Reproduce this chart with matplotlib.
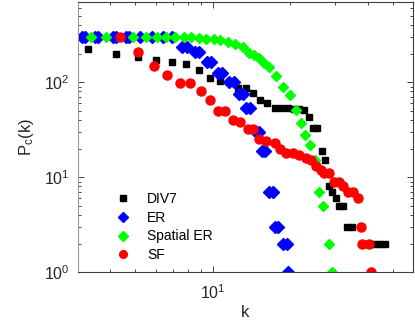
import matplotlib
matplotlib.use('Agg')
import matplotlib.pyplot as plt
from matplotlib.ticker import FixedLocator, FixedFormatter, NullFormatter

plt.rcParams['font.family'] = ['Liberation Sans', 'DejaVu Sans']

# DIV7
div7_k = [3.29, 4.21, 5.13, 6.05, 6.98, 7.91, 8.83, 9.73, 10.7, 12.6, 13.5, 14.4, 15.3,
          16.3, 17.4, 18.5, 19.6, 20.8, 21.7, 22.7, 23.6, 24.6, 25.5, 26.5, 27.4, 28.2,
          29.2, 30.2, 31.0, 32.2, 33.4, 34.9, 39.2, 41.0, 42.8, 44.8, 46.6]
div7_p = [226, 200, 185, 173, 162, 155, 136, 112, 104, 86, 86, 77, 65,
          61, 54, 54, 53, 52, 52, 51, 43, 33, 33, 19, 15, 8,
          7, 6, 5, 5, 3, 3, 2, 2, 2, 2, 2]

# ER
er_k = [3.11, 3.19, 3.49, 3.58, 4.09, 4.21, 4.60, 4.72, 5.21, 5.80, 6.40, 6.94,
        7.59, 7.93, 8.51, 8.83, 9.48, 9.82, 10.5, 10.9, 11.6, 12.1, 12.7, 13.1,
        13.5, 14.0, 14.7, 15.1, 15.5, 16.0, 16.5, 17.1, 17.5, 18.0, 18.7, 19.4, 19.7]
er_p = [300, 300, 300, 300, 300, 300, 300, 300, 300, 300, 300, 300,
        234, 234, 210, 210, 164, 164, 126, 126, 101, 101, 75, 75,
        53, 53, 30, 30, 19, 19, 7, 7, 3, 3, 2, 2, 1]

# Spatial ER
ser_k = [3.37, 3.85, 4.90, 5.50, 6.07, 6.58, 7.13, 7.73, 8.22, 8.83, 9.39, 10.1, 10.7,
         11.5, 12.2, 13.1, 13.9, 14.5, 15.2, 15.9, 16.6, 17.7, 18.8, 19.9, 21.0, 22.1,
         22.9, 23.8, 24.9, 25.8, 26.9, 28.2, 29.0]
ser_p = [300, 300, 300, 300, 300, 300, 300, 300, 298, 292, 288, 282, 275,
         262, 250, 232, 205, 193, 178, 158, 144, 117, 88, 73, 51, 37,
         28, 22, 15, 7, 5, 2, 1]

# SF
sf_k = [4.36, 5.13, 5.90, 6.65, 7.45, 8.2, 8.98, 9.73, 10.5, 11.2, 12.0, 12.8, 13.7,
        14.3, 15.1, 16.1, 17.4, 18.2, 19.3, 20.5, 21.7, 23.1, 24.1, 25.2, 26.4, 27.2,
        28.4, 29.7, 31.1, 32.2, 33.5, 35.0, 36.6, 37.7, 38.1, 40.6, 41.4]
sf_p = [300, 208, 148, 118, 98, 98, 80, 65, 50, 50, 40, 38, 32,
        32, 25, 24, 23, 20, 18, 18, 17, 16, 15, 13, 12, 11,
        11, 9, 9, 8, 7, 7, 6, 3, 2, 2, 1]

fig = plt.figure(figsize=(4.15, 3.24), dpi=100)
ax = fig.add_axes([0.188, 0.160, 0.807, 0.834])

ax.plot(div7_k, div7_p, 's', color='k', markersize=5, label='DIV7')
ax.plot(er_k, er_p, 'D', color='b', markersize=6, label='ER')
ax.plot(ser_k, ser_p, 'D', color=(0, 1, 0), markersize=5.5, label='Spatial ER')
ax.plot(sf_k, sf_p, 'o', color='r', markersize=6.5, label='SF')

ax.set_xscale('log')
ax.set_yscale('log')
ax.set_xlim(3, 60)
ax.set_ylim(1, 700)

ax.xaxis.set_major_locator(FixedLocator([10]))
ax.xaxis.set_major_formatter(FixedFormatter([r'$\mathregular{10^{1}}$']))
ax.xaxis.set_minor_locator(FixedLocator([3, 4, 5, 6, 7, 8, 9, 20, 30, 40, 50]))
ax.xaxis.set_minor_formatter(NullFormatter())
ax.yaxis.set_major_locator(FixedLocator([1, 10, 100]))
ax.yaxis.set_major_formatter(FixedFormatter([r'$\mathregular{10^{0}}$',
                                             r'$\mathregular{10^{1}}$',
                                             r'$\mathregular{10^{2}}$']))
yminor = [m * d for d in (1, 10, 100) for m in range(2, 10)]
ax.yaxis.set_minor_locator(FixedLocator(yminor))
ax.yaxis.set_minor_formatter(NullFormatter())

ax.tick_params(which='both', direction='in', top=True, right=True,
               colors='#262626', labelcolor='#262626', labelsize=11.5)
ax.tick_params(which='major', length=4, width=0.6)
ax.tick_params(which='minor', length=2.5, width=0.6)
ax.tick_params(axis='x', pad=8)
ax.tick_params(axis='y', pad=6)
for name, s in ax.spines.items():
    s.set_color('#9a9a9a' if name == 'left' else '#404040')
    s.set_linewidth(0.8)

ax.set_xlabel('k', fontsize=12, color='#262626', labelpad=2)
ax.set_ylabel(r'$\mathregular{P_c(k)}$', fontsize=12, color='#262626', labelpad=6)

ax.legend(loc='center left', bbox_to_anchor=(0.115, 0.167), frameon=False,
          fontsize=10, handlelength=1.0, handletextpad=1.2, labelspacing=0.35,
          borderpad=0, borderaxespad=0, markerscale=0.85)

fig.savefig('out.png', dpi=100)
